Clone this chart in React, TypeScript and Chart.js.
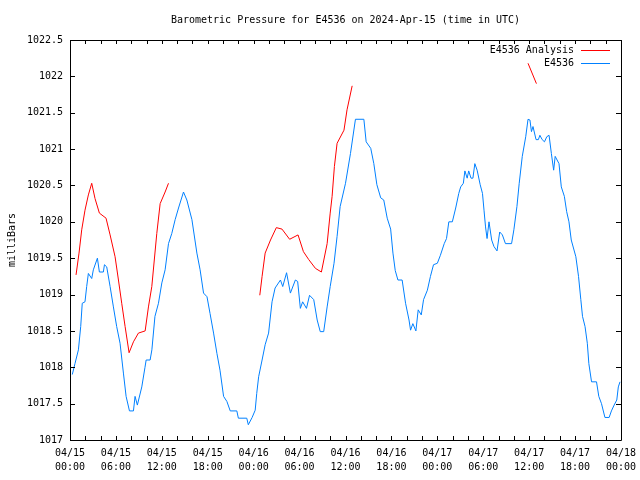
import React, { useEffect, useRef } from "react";
import { Chart, registerables } from "chart.js";

Chart.register(...registerables);

const TITLE = "Barometric Pressure for E4536 on 2024-Apr-15 (time in UTC)";
const Y_LABEL = "milliBars";
const FONT = "'DejaVu Sans Mono', 'Liberation Mono', monospace";

// hours since 04/15 00:00 UTC
const obsHours = [
  0.3, 0.65, 1.1, 1.4, 1.6, 1.96, 2.18, 2.4, 2.84, 3.05, 3.58, 3.84, 4.36, 4.5, 4.8, 5.24, 5.67, 6.1, 6.54, 6.98,
  7.33, 7.77, 8.29, 8.5, 8.8, 9.38, 9.8, 9.95, 10.47, 10.7, 11.1, 11.56, 12.0, 12.43, 12.87, 13.3, 13.74, 14.18, 14.83, 15.27,
  15.93, 16.58, 17.0, 17.45, 17.9, 18.3, 18.76, 19.2, 19.6, 20.07, 20.5, 20.94, 21.8, 22.0, 23.1, 23.3, 23.8, 24.2, 24.4, 24.65,
  25.1, 25.5, 25.95, 26.4, 26.8, 27.5, 27.8, 28.3, 28.8, 29.45, 29.75, 30.1, 30.4, 30.9, 31.3, 31.85, 32.3, 32.7, 33.15, 33.6,
  34.0, 34.5, 34.9, 35.3, 36.0, 36.65, 37.3, 38.4, 38.7, 39.3, 39.7, 40.1, 40.6, 41.0, 41.45, 41.9, 42.2, 42.5, 42.85, 43.4,
  43.85, 44.3, 44.5, 44.8, 45.2, 45.5, 45.9, 46.2, 46.7, 47.1, 47.5, 48.0, 48.4, 48.9, 49.2, 49.5, 49.96, 50.4, 50.8, 51.05,
  51.4, 51.6, 51.9, 52.1, 52.4, 52.65, 52.9, 53.2, 53.6, 53.9, 54.1, 54.3, 54.5, 54.75, 55.1, 55.4, 55.8, 56.15, 56.5, 56.9,
  57.7, 58.0, 58.4, 58.7, 59.1, 59.55, 59.85, 60.1, 60.3, 60.5, 60.9, 61.2, 61.4, 61.7, 62.0, 62.3, 62.6, 62.9, 63.2, 63.4,
  63.9, 64.2, 64.6, 64.9, 65.2, 65.5, 66.1, 66.45, 66.75, 66.97, 67.3, 67.6, 67.8, 68.15, 68.8, 69.1, 69.45, 69.9, 70.45, 70.75,
  71.1, 71.45, 71.65, 71.87,
];
const obsValues = [
  1017.9, 1018.05, 1018.24, 1018.56, 1018.88, 1018.9, 1019.11, 1019.29, 1019.22, 1019.34, 1019.5, 1019.31, 1019.31, 1019.41, 1019.38, 1019.11, 1018.83, 1018.56, 1018.33, 1017.92,
  1017.6, 1017.4, 1017.4, 1017.6, 1017.48, 1017.73, 1018.0, 1018.1, 1018.1, 1018.24, 1018.7, 1018.88, 1019.16, 1019.34, 1019.7, 1019.84, 1020.03, 1020.19, 1020.41, 1020.3,
  1020.03, 1019.57, 1019.34, 1019.02, 1018.97, 1018.74, 1018.47, 1018.19, 1017.96, 1017.6, 1017.53, 1017.4, 1017.4, 1017.3, 1017.3, 1017.21, 1017.31, 1017.41, 1017.64, 1017.87,
  1018.1, 1018.31, 1018.47, 1018.9, 1019.09, 1019.2, 1019.11, 1019.3, 1019.02, 1019.2, 1019.18, 1018.81, 1018.9, 1018.81, 1018.99, 1018.93, 1018.65, 1018.49, 1018.49, 1018.83,
  1019.11, 1019.43, 1019.8, 1020.21, 1020.53, 1020.94, 1021.41, 1021.41, 1021.1, 1021.01, 1020.8, 1020.51, 1020.33, 1020.3, 1020.05, 1019.9, 1019.57, 1019.33, 1019.2, 1019.2,
  1018.88, 1018.65, 1018.51, 1018.6, 1018.5, 1018.79, 1018.72, 1018.93, 1019.06, 1019.25, 1019.41, 1019.43, 1019.54, 1019.7, 1019.77, 1020.0, 1020.0, 1020.19, 1020.39, 1020.48,
  1020.53, 1020.7, 1020.6, 1020.7, 1020.6, 1020.6, 1020.8, 1020.71, 1020.51, 1020.39, 1020.16, 1019.93, 1019.77, 1020.0, 1019.75, 1019.66, 1019.6, 1019.86, 1019.82, 1019.7,
  1019.7, 1019.89, 1020.21, 1020.53, 1020.9, 1021.17, 1021.41, 1021.4, 1021.24, 1021.31, 1021.13, 1021.13, 1021.19, 1021.13, 1021.1, 1021.17, 1021.19, 1020.94, 1020.71, 1020.9,
  1020.8, 1020.48, 1020.35, 1020.14, 1020.0, 1019.75, 1019.52, 1019.25, 1018.93, 1018.7, 1018.56, 1018.33, 1018.05, 1017.8, 1017.8, 1017.6, 1017.5, 1017.31, 1017.31, 1017.4,
  1017.48, 1017.55, 1017.73, 1017.8,
];

// analysis segments (null separates segments)
const anaHours = [
  0.79, 1.18, 1.53, 1.96, 2.4, 2.84, 3.27, 3.84, 4.71, 5.24, 5.89, 6.33, 6.76, 7.2, 7.72, 8.29, 8.94, 9.82, 10.25, 10.69, 11.34, 11.78, 12.43, 12.87,
  18,
  24.8, 25.1, 25.5, 26.2, 26.96, 27.7, 28.7, 29.8, 30.5, 31.2, 32.07, 32.85, 33.6, 34.0, 34.25, 34.55, 34.9, 35.8, 36.2, 36.87,
  48,
  59.85, 60.95,
];
const anaValues: (number | null)[] = [
  1019.27, 1019.57, 1019.89, 1020.16, 1020.37, 1020.53, 1020.32, 1020.12, 1020.05, 1019.82, 1019.52, 1019.2, 1018.88, 1018.56, 1018.2, 1018.35, 1018.47, 1018.5, 1018.83, 1019.11, 1019.84, 1020.25, 1020.41, 1020.53,
  null,
  1018.99, 1019.25, 1019.57, 1019.75, 1019.92, 1019.9, 1019.76, 1019.82, 1019.59, 1019.48, 1019.36, 1019.31, 1019.7, 1020.12, 1020.35, 1020.76, 1021.08, 1021.26, 1021.54, 1021.87,
  null,
  1022.18, 1021.9,
];

const yTickValues = [1017, 1017.5, 1018, 1018.5, 1019, 1019.5, 1020, 1020.5, 1021, 1021.5, 1022, 1022.5];
const yTickLabels = ["1017", "1017.5", "1018", "1018.5", "1019", "1019.5", "1020", "1020.5", "1021", "1021.5", "1022", "1022.5"];
const xTickLabels = [
  ["04/15", "00:00"], ["04/15", "06:00"], ["04/15", "12:00"], ["04/15", "18:00"],
  ["04/16", "00:00"], ["04/16", "06:00"], ["04/16", "12:00"], ["04/16", "18:00"],
  ["04/17", "00:00"], ["04/17", "06:00"], ["04/17", "12:00"], ["04/17", "18:00"],
  ["04/18", "00:00"],
];

const legendNames = ["E4536 Analysis", "E4536"];
const RED = "#ff0000";
const BLUE = "#0080ff";

const framePlugin = {
  id: "frame",
  afterDraw(chart: any) {
    const { ctx, chartArea } = chart;
    const { left, right, top, bottom } = chartArea;
    ctx.save();
    ctx.strokeStyle = "#000";
    ctx.lineWidth = 1;
    ctx.beginPath();
    ctx.rect(Math.round(left) + 0.5, Math.round(top) + 0.5, Math.round(right - left), Math.round(bottom - top));
    ctx.stroke();
    // ticks (inward, mirrored)
    const xs = chart.scales.x;
    const ys = chart.scales.y;
    ctx.beginPath();
    xs.ticks.forEach((t: any) => {
      const px = Math.round(xs.getPixelForValue(t.value)) + 0.5;
      ctx.moveTo(px, bottom);
      ctx.lineTo(px, bottom - 4);
      ctx.moveTo(px, top);
      ctx.lineTo(px, top + 4);
    });
    ys.ticks.forEach((t: any) => {
      const py = Math.round(ys.getPixelForValue(t.value)) + 0.5;
      ctx.moveTo(left, py);
      ctx.lineTo(left + 5, py);
      ctx.moveTo(right, py);
      ctx.lineTo(right - 5, py);
    });
    ctx.stroke();
    // title
    ctx.fillStyle = "#000";
    ctx.font = `10px ${FONT}`;
    ctx.textAlign = "center";
    ctx.textBaseline = "middle";
    ctx.fillText(TITLE, (left + right) / 2, 20);
    // legend
    const colors = [RED, BLUE];
    legendNames.forEach((name, i) => {
      const y = Math.round(top + 10 + i * 13) + 0.5;
      ctx.textAlign = "right";
      ctx.fillStyle = "#000";
      ctx.fillText(name, right - 47, y);
      ctx.strokeStyle = colors[i];
      ctx.beginPath();
      ctx.moveTo(right - 40, y);
      ctx.lineTo(right - 11, y);
      ctx.stroke();
    });
    ctx.restore();
  },
};

export default function App() {
  const ref = useRef<HTMLCanvasElement>(null);
  useEffect(() => {
    if (!ref.current) return;
    Chart.defaults.font.family = FONT;
    Chart.defaults.font.size = 10;
    Chart.defaults.color = "#000";
    const chart = new Chart(ref.current, {
      type: "scatter",
      data: {
        datasets: [
          {
            label: legendNames[0],
            data: anaHours.map((h, i) => ({ x: h, y: anaValues[i] })) as any,
            showLine: true,
            borderColor: RED,
            borderWidth: 1,
            pointRadius: 0,
            spanGaps: false,
            tension: 0,
          },
          {
            label: legendNames[1],
            data: obsHours.map((h, i) => ({ x: h, y: obsValues[i] })),
            showLine: true,
            borderColor: BLUE,
            borderWidth: 1,
            pointRadius: 0,
            tension: 0,
          },
        ],
      },
      options: {
        animation: false,
        responsive: false,
        layout: { padding: { left: 0, right: 19, top: 40, bottom: 0 } },
        plugins: { legend: { display: false }, tooltip: { enabled: false }, title: { display: false } },
        scales: {
          x: {
            type: "linear",
            min: 0,
            max: 72,
            grid: { display: false, drawTicks: false },
            border: { display: false },
            afterFit: (s: any) => {
              s.height = 40;
              s.paddingLeft = 0;
              s.paddingRight = 0;
            },
            ticks: {
              stepSize: 2,
              autoSkip: false,
              maxRotation: 0,
              padding: 7,
              font: { size: 10, family: FONT, lineHeight: 1.33 },
              callback: (v: any) => (Number(v) % 6 === 0 ? xTickLabels[Number(v) / 6] : ""),
            },
          },
          y: {
            type: "linear",
            min: 1017,
            max: 1022.5,
            grid: { display: false, drawTicks: false },
            border: { display: false },
            afterFit: (s: any) => {
              s.width = 70;
              s.paddingTop = 0;
              s.paddingBottom = 0;
            },
            afterBuildTicks: (s: any) => {
              s.ticks = yTickValues.map((v) => ({ value: v }));
            },
            ticks: {
              padding: 7,
              autoSkip: false,
              font: { size: 10, family: FONT },
              callback: (v: any) => {
                const i = yTickValues.indexOf(Number(v));
                return i >= 0 ? yTickLabels[i] : "";
              },
            },
            title: { display: true, text: Y_LABEL, padding: { top: 6, bottom: 0 }, font: { size: 10, family: FONT } },
          },
        },
      },
      plugins: [framePlugin],
    });
    return () => chart.destroy();
  }, []);
  return (
    <div style={{ position: "fixed", left: 0, top: 0, width: 640, height: 480, background: "#fff" }}>
      <canvas ref={ref} width={640} height={480} />
    </div>
  );
}
